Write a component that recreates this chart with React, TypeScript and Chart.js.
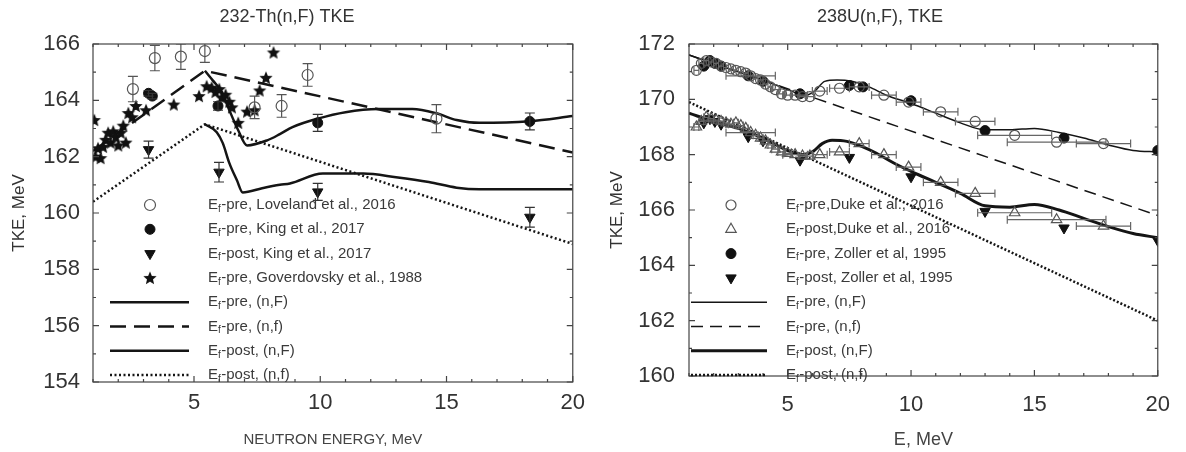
import React, { useEffect, useRef } from 'react';
import { Chart, registerables } from 'chart.js';
import { drawPoint } from 'chart.js/helpers';

Chart.register(...registerables);

const FONT = '"Liberation Sans", Arial, Helvetica, sans-serif';

// ---------- shared tick labels ----------
const xTicks = [5, 10, 15, 20];
const thYTicks = [154, 156, 158, 160, 162, 164, 166];
const uYTicks = [160, 162, 164, 166, 168, 170, 172];

// ---------- 232-Th(n,F) ----------
const thLovelandE = [2.58, 3.45, 4.48, 5.43, 7.4, 8.47, 9.5, 14.6];
const thLovelandTKE = [164.4, 165.5, 165.55, 165.75, 163.75, 163.8, 164.9, 163.35];
const thLovelandErr = [0.45, 0.45, 0.45, 0.4, 0.4, 0.4, 0.4, 0.5];

const thKingPreE = [3.2, 3.35, 5.95, 9.9, 18.3];
const thKingPreTKE = [164.25, 164.15, 163.8, 163.2, 163.25];
const thKingPreErr = [0.1, 0.1, 0.15, 0.3, 0.3];

const thKingPostE = [3.2, 5.99, 9.9, 18.3];
const thKingPostTKE = [162.25, 161.45, 160.75, 159.85];
const thKingPostErr = [0.3, 0.35, 0.3, 0.35];

const thGovE = [1.05, 1.1, 1.2, 1.3, 1.4, 1.5, 1.6, 1.7, 1.8, 1.9, 2.0, 2.1, 2.2, 2.3, 2.4, 2.55, 2.7, 3.1, 4.2, 5.2, 5.5, 5.7, 5.85, 6.0, 6.1, 6.25, 6.4, 6.5, 6.75, 7.1, 7.4, 7.6, 7.85, 8.15];
const thGovTKE = [163.3, 162.0, 162.3, 161.95, 162.35, 162.6, 162.85, 162.5, 162.9, 162.7, 162.4, 162.85, 163.1, 162.5, 163.55, 163.4, 163.8, 163.65, 163.85, 164.15, 164.5, 164.45, 164.3, 164.4, 164.1, 164.2, 163.95, 163.75, 163.2, 163.6, 163.65, 164.35, 164.8, 165.7];

const thPreNFE = [5.43, 5.75, 6.1, 6.4, 6.75, 7.1, 7.9, 8.4, 8.9, 9.9, 11, 12.3, 13.65, 14.6, 15.4, 16.3, 18.3, 20];
const thPreNFTKE = [165.05, 164.7, 164.3, 163.65, 162.94, 162.4, 162.58, 162.8, 163.05, 163.35, 163.58, 163.69, 163.69, 163.54, 163.3, 163.2, 163.26, 163.44];

const thPreNfE = [1, 5.43, 20];
const thPreNfTKE = [162.2, 165.05, 162.15];

const thPostNFE = [5.43, 5.9, 6.14, 6.4, 6.7, 6.93, 7.7, 8.4, 8.8, 10.1, 11.7, 13, 14.3, 15.4, 16.3, 18, 20];
const thPostNFTKE = [163.15, 162.87, 162.48, 161.77, 161.16, 160.73, 160.88, 161.0, 161.05, 161.4, 161.4, 161.27, 161.1, 160.9, 160.84, 160.84, 160.84];

const thPostNfE = [1, 5.43, 20];
const thPostNfTKE = [160.4, 163.15, 158.9];

// ---------- 238U(n,F) ----------
const uDukeE = [1.3, 1.5, 1.7, 1.9, 2.1, 2.3, 2.5, 2.7, 2.9, 3.1, 3.3, 3.5, 3.7, 3.9, 4.1, 4.3, 4.5, 4.75, 5.0, 5.3, 5.6, 5.9, 6.3, 7.1, 7.9, 8.9, 9.9, 11.2, 12.6, 14.2, 15.9, 17.8];
const uDukeXErr = [0.1, 0.1, 0.1, 0.1, 0.1, 0.1, 0.1, 0.1, 0.1, 0.1, 0.1, 1.0, 0.1, 0.1, 0.1, 0.1, 0.15, 0.15, 0.15, 0.5, 0.15, 0.15, 0.3, 0.4, 0.4, 0.5, 0.5, 0.7, 0.8, 1.5, 2.0, 1.1];
const uDukePreTKE = [171.05, 171.3, 171.4, 171.35, 171.3, 171.2, 171.15, 171.1, 171.05, 171.0, 170.95, 170.85, 170.75, 170.7, 170.55, 170.45, 170.35, 170.2, 170.15, 170.15, 170.1, 170.1, 170.3, 170.4, 170.45, 170.15, 169.9, 169.55, 169.2, 168.7, 168.45, 168.4];
const uDukePostTKE = [169.0, 169.2, 169.35, 169.3, 169.25, 169.2, 169.15, 169.1, 169.15, 169.05, 168.95, 168.8, 168.7, 168.6, 168.5, 168.35, 168.2, 168.1, 168.05, 168.0, 167.95, 167.95, 168.0, 168.1, 168.4, 168.0, 167.55, 167.0, 166.6, 165.9, 165.65, 165.42];

const uZollerPreE = [1.6, 1.85, 2.05, 2.3, 3.4, 4.0, 5.5, 7.5, 8.05, 10, 13, 16.2, 20];
const uZollerPreTKE = [171.2, 171.4, 171.3, 171.2, 170.85, 170.65, 170.2, 170.5, 170.45, 169.95, 168.87, 168.6, 168.15];

const uZollerPostE = [1.6, 1.85, 2.05, 2.3, 3.4, 4.0, 5.5, 7.5, 10, 13, 16.2, 20];
const uZollerPostTKE = [169.15, 169.3, 169.2, 169.1, 168.65, 168.5, 167.8, 167.9, 167.2, 165.95, 165.35, 164.9];

const uPreNFE = [1, 2, 3, 4, 5, 5.7, 6.1, 6.5, 7.0, 7.6, 8.3, 9, 10, 11, 12, 13, 14, 15, 16, 17, 18, 19, 20];
const uPreNFTKE = [171.6, 171.3, 171.0, 170.7, 170.35, 170.15, 170.3, 170.65, 170.7, 170.65, 170.45, 170.15, 169.85, 169.5, 169.15, 168.9, 168.9, 168.95, 168.8, 168.6, 168.35, 168.15, 168.1];

const uPreNfE = [1, 20];
const uPreNfTKE = [171.6, 165.8];

const uPostNFE = [1, 2, 3, 4, 5, 5.6, 6.0, 6.4, 6.8, 7.4, 8.0, 8.6, 9.3, 10, 11, 12, 13, 14, 15, 16, 17, 18, 19, 20];
const uPostNFTKE = [169.5, 169.2, 168.95, 168.6, 168.15, 168.0, 168.1, 168.4, 168.52, 168.48, 168.3, 168.05, 167.7, 167.4, 167.0, 166.6, 166.15, 166.1, 166.2, 166.0, 165.7, 165.4, 165.15, 165.0];

const uPostNfE = [1, 20];
const uPostNfTKE = [169.9, 162.0];

// ---------- helpers ----------
const pts = (xs: number[], ys: number[]) => xs.map((x, i) => ({ x, y: ys[i] }));

function makeStar(r: number) {
  const c = document.createElement('canvas');
  const s = Math.ceil(r * 2 + 2);
  c.width = s;
  c.height = s;
  const g = c.getContext('2d')!;
  g.translate(s / 2, s / 2 + 0.5);
  g.beginPath();
  for (let i = 0; i < 10; i++) {
    const rad = i % 2 === 0 ? r : r * 0.45;
    const a = -Math.PI / 2 + (i * Math.PI) / 5;
    g.lineTo(rad * Math.cos(a), rad * Math.sin(a));
  }
  g.closePath();
  g.fillStyle = '#111';
  g.fill();
  return c;
}

const errorBarPlugin = {
  id: 'errBars',
  afterDatasetsDraw(chart: any) {
    const { ctx, chartArea: a, scales } = chart;
    const xs = scales.x, ys = scales.y;
    ctx.save();
    ctx.beginPath();
    ctx.rect(a.left, a.top, a.right - a.left, a.bottom - a.top);
    ctx.clip();
    chart.data.datasets.forEach((ds: any) => {
      if (!ds.errY && !ds.errX) return;
      ctx.strokeStyle = ds.errColor || '#444';
      ctx.lineWidth = 1.2;
      const cap = ds.errCap || 4;
      ctx.beginPath();
      ds.data.forEach((p: any, j: number) => {
        const px = xs.getPixelForValue(p.x);
        const py = ys.getPixelForValue(p.y);
        if (ds.errY && ds.errY[j]) {
          const t = ys.getPixelForValue(p.y + ds.errY[j]);
          const b = ys.getPixelForValue(p.y - ds.errY[j]);
          ctx.moveTo(px, t); ctx.lineTo(px, b);
          ctx.moveTo(px - cap, t); ctx.lineTo(px + cap, t);
          ctx.moveTo(px - cap, b); ctx.lineTo(px + cap, b);
        }
        if (ds.errX && ds.errX[j]) {
          const l = xs.getPixelForValue(p.x - ds.errX[j]);
          const r = xs.getPixelForValue(p.x + ds.errX[j]);
          ctx.moveTo(l, py); ctx.lineTo(r, py);
          ctx.moveTo(l, py - cap); ctx.lineTo(l, py + cap);
          ctx.moveTo(r, py - cap); ctx.lineTo(r, py + cap);
        }
      });
      ctx.stroke();
    });
    ctx.restore();
  },
};

const frameTicksPlugin = {
  id: 'frameTicks',
  afterDatasetsDraw(chart: any) {
    const { ctx, chartArea: a, scales } = chart;
    const xs = scales.x, ys = scales.y;
    ctx.save();
    ctx.strokeStyle = '#444';
    ctx.lineWidth = 1.2;
    ctx.strokeRect(a.left, a.top, a.right - a.left, a.bottom - a.top);
    ctx.beginPath();
    for (let v = Math.ceil(xs.min); v <= xs.max; v += 1) {
      const px = xs.getPixelForValue(v);
      const len = v % 5 === 0 ? 6 : 3;
      ctx.moveTo(px, a.bottom); ctx.lineTo(px, a.bottom - len);
      ctx.moveTo(px, a.top); ctx.lineTo(px, a.top + len);
    }
    for (let v = ys.min; v <= ys.max; v += 1) {
      const py = ys.getPixelForValue(v);
      const len = (v - ys.min) % 2 === 0 ? 6 : 3;
      ctx.moveTo(a.left, py); ctx.lineTo(a.left + len, py);
      ctx.moveTo(a.right, py); ctx.lineTo(a.right - len, py);
    }
    ctx.stroke();
    ctx.restore();
  },
};

const inLegendPlugin = {
  id: 'inLegend',
  afterDraw(chart: any, _args: any, opts: any) {
    const ctx = chart.ctx;
    chart.data.datasets.forEach((ds: any) => {
      if (ds.legendRow == null) return;
      const y = opts.y0 + ds.legendRow * opts.dy;
      ctx.save();
      if (ds.showLine) {
        ctx.strokeStyle = ds.borderColor;
        ctx.lineWidth = ds.borderWidth;
        ctx.setLineDash(ds.borderDash || []);
        ctx.beginPath();
        ctx.moveTo(opts.lineX0, y);
        ctx.lineTo(opts.lineX1, y);
        ctx.stroke();
        ctx.setLineDash([]);
      } else {
        ctx.fillStyle = ds.pointBackgroundColor;
        ctx.strokeStyle = ds.pointBorderColor;
        ctx.lineWidth = ds.pointBorderWidth;
        drawPoint(ctx, { pointStyle: ds.pointStyle, rotation: ds.pointRotation || 0, radius: ds.pointRadius, borderWidth: ds.pointBorderWidth } as any, opts.markerX, y);
      }
      ctx.fillStyle = '#3a3a3a';
      ctx.textBaseline = 'middle';
      ctx.textAlign = 'left';
      let x = opts.textX;
      ctx.font = `15px ${FONT}`;
      ctx.fillText('E', x, y);
      x += ctx.measureText('E').width;
      ctx.font = `10px ${FONT}`;
      ctx.fillText('f', x, y + 4);
      x += ctx.measureText('f').width + 0.5;
      ctx.font = `15px ${FONT}`;
      ctx.fillText(ds.label.slice(2), x, y);
      ctx.restore();
    });
  },
};

function markerDs(label: string, data: any[], row: number, style: any, extra: any = {}) {
  return {
    label,
    data,
    legendRow: row,
    showLine: false,
    pointStyle: style.pointStyle,
    pointRadius: style.radius,
    pointHoverRadius: style.radius,
    pointRotation: style.rotation || 0,
    pointBackgroundColor: style.fill,
    pointBorderColor: style.stroke,
    pointBorderWidth: style.bw,
    backgroundColor: style.fill,
    borderColor: style.stroke,
    ...extra,
  };
}

function lineDs(label: string, data: any[], row: number, width: number, dash: number[] = [], smooth = true) {
  return {
    label,
    data,
    legendRow: row,
    showLine: true,
    borderColor: '#151515',
    backgroundColor: '#151515',
    borderWidth: width,
    borderDash: dash,
    pointRadius: 0,
    pointHoverRadius: 0,
    cubicInterpolationMode: smooth ? 'monotone' : 'default',
    tension: 0,
    fill: false,
  };
}

type Spec = {
  title: string;
  xTitle: string;
  xTitleSize: number;
  xTitlePadBottom: number;
  yMin: number;
  yMax: number;
  yTicks: number[];
  yAxisWidth: number;
  xAxisHeight: number;
  rightPad: number;
  xTickPad: number;
  yTickPad: number;
  yTitlePadTop: number;
  legend: any;
  datasets: () => any[];
};

function buildConfig(spec: Spec): any {
  return {
    type: 'scatter',
    data: { datasets: spec.datasets() },
    plugins: [errorBarPlugin, frameTicksPlugin, inLegendPlugin],
    options: {
      responsive: false,
      animation: false,
      devicePixelRatio: 1,
      events: [],
      layout: { padding: { left: 0, right: spec.rightPad, top: 0, bottom: 0 } },
      plugins: {
        legend: { display: false },
        tooltip: { enabled: false },
        title: {
          display: true,
          text: spec.title,
          color: '#333',
          font: { family: FONT, size: 18, weight: 'normal' },
          padding: { top: 6, bottom: 16.4 },
        },
        inLegend: spec.legend,
      },
      scales: {
        x: {
          type: 'linear',
          min: 1,
          max: 20,
          afterBuildTicks: (s: any) => { s.ticks = xTicks.map((v) => ({ value: v })); },
          afterFit: (s: any) => { s.height = spec.xAxisHeight; },
          grid: { display: false, drawTicks: false },
          border: { display: false },
          ticks: { font: { family: FONT, size: 22 }, color: '#333', padding: spec.xTickPad, maxRotation: 0, autoSkip: false },
          title: {
            display: true,
            text: spec.xTitle,
            color: '#444',
            font: { family: FONT, size: spec.xTitleSize },
            padding: { top: 0, bottom: spec.xTitlePadBottom },
          },
        },
        y: {
          type: 'linear',
          min: spec.yMin,
          max: spec.yMax,
          afterBuildTicks: (s: any) => { s.ticks = spec.yTicks.map((v) => ({ value: v })); },
          afterFit: (s: any) => { s.width = spec.yAxisWidth; },
          grid: { display: false, drawTicks: false },
          border: { display: false },
          ticks: { font: { family: FONT, size: 22 }, color: '#333', padding: spec.yTickPad, autoSkip: false },
          title: {
            display: true,
            text: 'TKE, MeV',
            color: '#333',
            font: { family: FONT, size: 17 },
            padding: { top: spec.yTitlePadTop, bottom: 0 },
          },
        },
      },
    },
  };
}

const thSpec: Spec = {
  title: '232-Th(n,F) TKE',
  xTitle: 'NEUTRON ENERGY, MeV',
  xTitleSize: 15,
  xTitlePadBottom: 3,
  yMin: 154,
  yMax: 166,
  yTicks: thYTicks,
  yAxisWidth: 93,
  xAxisHeight: 70,
  rightPad: 19,
  xTickPad: 8,
  yTickPad: 13,
  yTitlePadTop: 8.8,
  legend: { y0: 205, dy: 24.3, markerX: 150, lineX0: 110, lineX1: 189, textX: 208 },
  datasets: () => {
    const star = makeStar(7);
    return [
      markerDs('Ef-pre, Loveland et al., 2016', pts(thLovelandE, thLovelandTKE), 0,
        { pointStyle: 'circle', radius: 5.5, fill: 'rgba(255,255,255,0)', stroke: '#555', bw: 1.2 },
        { errY: thLovelandErr, errColor: '#555', errCap: 5 }),
      markerDs('Ef-pre, King et al., 2017', pts(thKingPreE, thKingPreTKE), 1,
        { pointStyle: 'circle', radius: 5, fill: '#111', stroke: '#111', bw: 1 },
        { errY: thKingPreErr, errColor: '#333', errCap: 5 }),
      markerDs('Ef-post, King et al., 2017', pts(thKingPostE, thKingPostTKE), 2,
        { pointStyle: 'triangle', radius: 6, rotation: 180, fill: '#111', stroke: '#111', bw: 1 },
        { errY: thKingPostErr, errColor: '#333', errCap: 5 }),
      markerDs('Ef-pre, Goverdovsky et al., 1988', pts(thGovE, thGovTKE), 3,
        { pointStyle: star, radius: 7, fill: '#111', stroke: '#111', bw: 0 }),
      lineDs('Ef-pre, (n,F)', pts(thPreNFE, thPreNFTKE), 4, 2.5),
      lineDs('Ef-pre, (n,f)', pts(thPreNfE, thPreNfTKE), 5, 2.5, [16, 8], false),
      lineDs('Ef-post, (n,F)', pts(thPostNFE, thPostNFTKE), 6, 2.5),
      lineDs('Ef-post, (n,f)', pts(thPostNfE, thPostNfTKE), 7, 2.5, [2, 2.5], false),
    ];
  },
};

const uSpec: Spec = {
  title: '238U(n,F), TKE',
  xTitle: 'E, MeV',
  xTitleSize: 18,
  xTitlePadBottom: 1.2,
  yMin: 160,
  yMax: 172,
  yTicks: uYTicks,
  yAxisWidth: 96,
  xAxisHeight: 76,
  rightPad: 19,
  xTickPad: 16,
  yTickPad: 14,
  yTitlePadTop: 13.8,
  legend: { y0: 205, dy: 24.3, markerX: 138, lineX0: 98, lineX1: 174, textX: 193 },
  datasets: () => [
    markerDs('Ef-pre,Duke et al., 2016', pts(uDukeE, uDukePreTKE), 0,
      { pointStyle: 'circle', radius: 5, fill: 'rgba(255,255,255,0)', stroke: '#555', bw: 1.2 },
      { errX: uDukeXErr, errColor: '#666', errCap: 4 }),
    markerDs('Ef-post,Duke et al., 2016', pts(uDukeE, uDukePostTKE), 1,
      { pointStyle: 'triangle', radius: 6, fill: 'rgba(255,255,255,0)', stroke: '#555', bw: 1.2 },
      { errX: uDukeXErr, errColor: '#666', errCap: 4 }),
    markerDs('Ef-pre, Zoller et al, 1995', pts(uZollerPreE, uZollerPreTKE), 2,
      { pointStyle: 'circle', radius: 5, fill: '#111', stroke: '#111', bw: 1 }),
    markerDs('Ef-post, Zoller et al, 1995', pts(uZollerPostE, uZollerPostTKE), 3,
      { pointStyle: 'triangle', radius: 6, rotation: 180, fill: '#111', stroke: '#111', bw: 1 }),
    lineDs('Ef-pre, (n,F)', pts(uPreNFE, uPreNFTKE), 4, 1.5),
    lineDs('Ef-pre, (n,f)', pts(uPreNfE, uPreNfTKE), 5, 1.5, [12, 7], false),
    lineDs('Ef-post, (n,F)', pts(uPostNFE, uPostNFTKE), 6, 3),
    lineDs('Ef-post, (n,f)', pts(uPostNfE, uPostNfTKE), 7, 2.5, [2, 2], false),
  ],
};

function ChartPanel({ spec, left }: { spec: Spec; left: number }) {
  const ref = useRef<HTMLCanvasElement>(null);
  useEffect(() => {
    const chart = new Chart(ref.current as HTMLCanvasElement, buildConfig(spec));
    return () => chart.destroy();
  }, [spec]);
  return (
    <canvas
      ref={ref}
      width={593}
      height={452}
      style={{ position: 'absolute', left, top: 0, width: 593, height: 452 }}
    />
  );
}

export default function App() {
  return (
    <div style={{ position: 'fixed', left: 0, top: 0, width: 1186, height: 452, background: '#fff', overflow: 'hidden' }}>
      <ChartPanel spec={thSpec} left={0} />
      <ChartPanel spec={uSpec} left={593} />
    </div>
  );
}
